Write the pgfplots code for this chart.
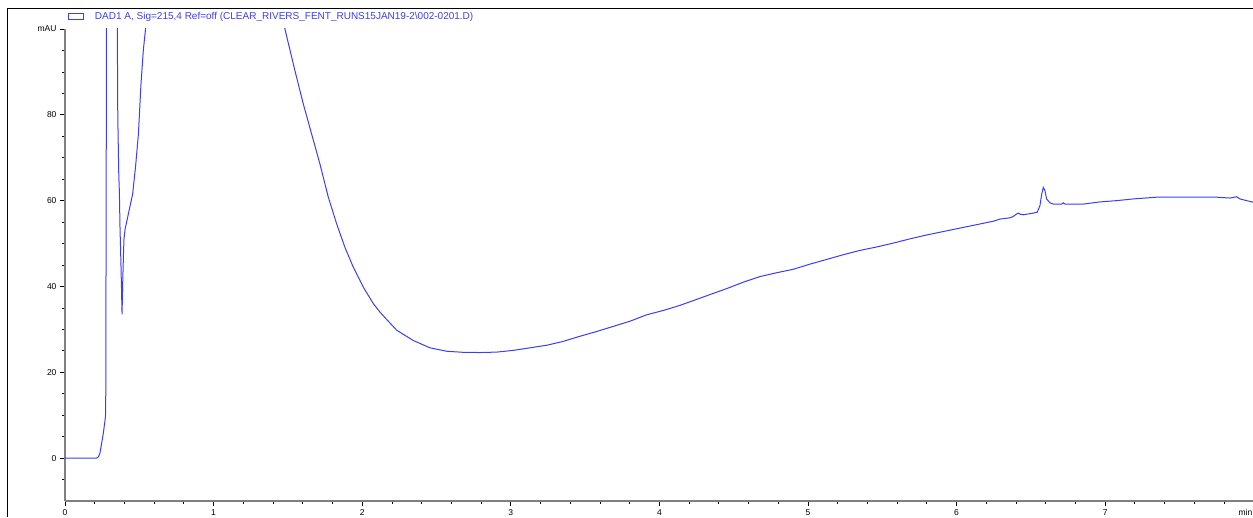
\documentclass[border=0pt]{standalone}
\usepackage{fontspec}
\setmainfont{Liberation Sans}
\usepackage{pgfplots}
\pgfplotsset{compat=1.18}
\definecolor{dadblue}{RGB}{60,60,255}
\definecolor{axgray}{RGB}{128,128,128}
\begin{document}
\begin{tikzpicture}[x=1pt,y=1pt]
\begin{axis}[
  at={(65pt,16pt)}, anchor=south west,
  scale only axis, width=1188.8pt, height=472pt,
  xmin=0, xmax=8, ymin=-10, ymax=100,
  axis x line=bottom, axis y line=left,
  axis line style={-, axgray, line width=1.6pt},
  tick align=outside,
  major tick length=5pt, minor tick length=3pt,
  every tick/.style={black, line width=0.8pt},
  xtick={0,1,2,3,4,5,6,7,8},
  xticklabels={0,1,2,3,4,5,6,7,\llap{min\,}},
  minor xtick={0.2,0.4,...,7.9},
  ytick={0,20,40,60,80,100},
  yticklabels={0,20,40,60,80,mAU},
  minor ytick={-5,5,10,15,25,30,35,45,50,55,65,70,75,85,90,95},
  tick label style={font=\fontsize{8.5}{10}\selectfont, text=black},
  legend style={at={(axis description cs:0,1)}, anchor=west, draw=none, fill=none,
    font=\fontsize{10}{11}\selectfont, xshift=0pt, yshift=12.3pt,
    /tikz/every odd column/.append style={column sep=9pt}},
  legend image code/.code={\draw[draw=dadblue, line width=0.8pt] (0pt,-3pt) rectangle (15pt,3pt);},
]
\addplot[dadblue, line width=1pt] coordinates {
(0,0) (0.213,0) (0.225,0.3) (0.235,1.1) (0.258,5.8) (0.270,9.0) (0.274,10.5) (0.275,27.4)
(0.277,60) (0.280,120) (0.30,300) (0.34,300) (0.350,120) (0.352,100) (0.355,81) (0.357,76)
(0.362,66) (0.366,62) (0.370,54) (0.376,46) (0.380,40) (0.384,33.5) (0.388,40.5) (0.394,48)
(0.397,51) (0.405,53.5) (0.415,55) (0.430,57.5) (0.455,61.5) (0.475,68) (0.494,75.5) (0.511,87)
(0.527,95) (0.545,101) (0.56,130) (0.7,300) (1.3,300) (1.40,115) (1.480,100) (1.548,90.2)
(1.604,82.5) (1.660,75.5) (1.716,68.5) (1.772,60.8) (1.828,54.6) (1.884,49.1) (1.940,44.5)
(2.008,39.8) (2.075,36.0) (2.120,34.0) (2.165,32.3) (2.232,29.8) (2.344,27.4) (2.456,25.7)
(2.569,24.9) (2.680,24.65) (2.793,24.6) (2.905,24.7) (3.017,25.1) (3.129,25.7) (3.242,26.3)
(3.353,27.2) (3.466,28.4) (3.578,29.5) (3.690,30.7) (3.802,31.9) (3.915,33.4) (4.026,34.4)
(4.139,35.6) (4.228,36.7) (4.340,38.1) (4.453,39.5) (4.565,41.0) (4.677,42.3) (4.790,43.2)
(4.901,44.0) (5.013,45.2) (5.126,46.3) (5.238,47.4) (5.350,48.4) (5.462,49.2) (5.574,50.1)
(5.687,51.1) (5.799,52.0) (5.911,52.8) (6.023,53.6) (6.135,54.4) (6.247,55.2) (6.292,55.7)
(6.359,56.0) (6.381,56.3) (6.404,56.9) (6.415,57.1) (6.430,56.8) (6.449,56.7) (6.516,57.1)
(6.543,57.3) (6.561,58.8) (6.573,61.5) (6.584,63.1) (6.595,62.3) (6.606,60.4) (6.628,59.5)
(6.651,59.2) (6.707,59.2) (6.718,59.5) (6.729,59.2) (6.853,59.2) (6.965,59.7) (7.078,60.0)
(7.190,60.4) (7.346,60.8) (7.526,60.8) (7.750,60.8) (7.840,60.6) (7.885,60.9) (7.907,60.4)
(7.952,60.0) (8.0,59.6)
};
\addlegendentry{\textcolor{dadblue}{DAD1 A, Sig=215,4 Ref=off (CLEAR\_RIVERS\_FENT\_RUNS15JAN19-2\textbackslash 002-0201.D)}}
\end{axis}
\draw[black, line width=1pt] (7,0) -- (7,508) -- (1260,508);
\pgfresetboundingbox
\path[use as bounding box] (0,0) rectangle (1253,517);
\end{tikzpicture}
\end{document}
